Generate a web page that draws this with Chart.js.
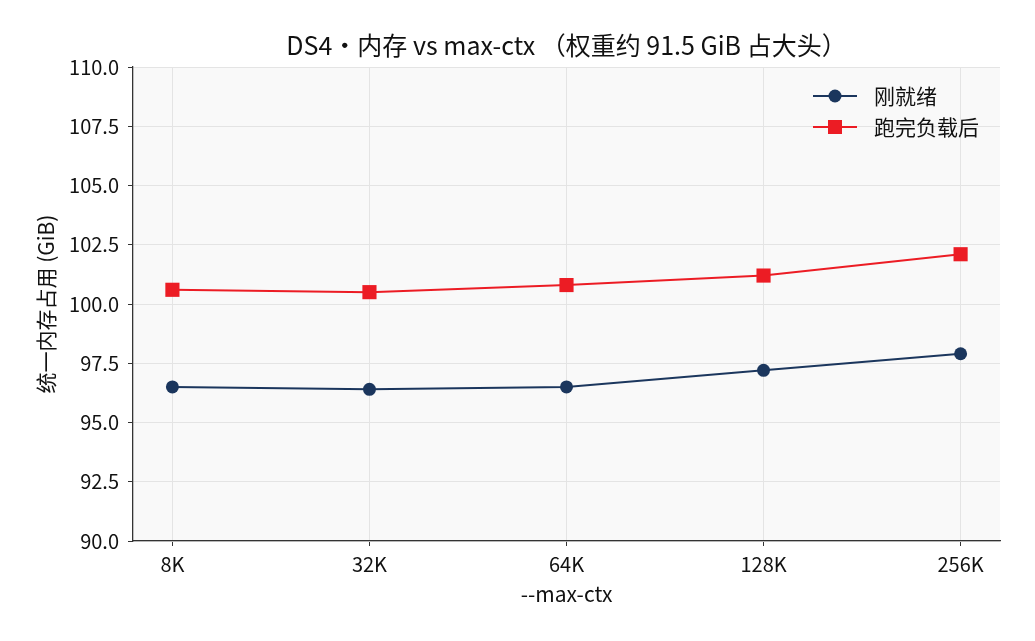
<!DOCTYPE html>
<html>
<head>
<meta charset="utf-8">
<script src="https://cdn.jsdelivr.net/npm/chart.js@4.4.1/dist/chart.umd.min.js"></script>
<style>
  html, body { margin: 0; padding: 0; background: #fff; }
  #wrap { width: 1035px; height: 641px; }
</style>
</head>
<body>
<div id="wrap"><canvas id="myChart"></canvas></div>
<script>
// chart data
const categories = ['8K', '32K', '64K', '128K', '256K'];
const readyValues = [96.5, 96.4, 96.5, 97.2, 97.9];
const afterLoadValues = [100.6, 100.5, 100.8, 101.2, 102.1];
const yTicks = [90, 92.5, 95, 97.5, 100, 102.5, 105, 107.5, 110];
const seriesNames = ['刚就绪', '跑完负载后'];

const FONT = '"Noto Sans CJK SC", "Noto Sans", sans-serif';
const NAVY = '#1b365d';
const RED = '#ec1c24';

const toPoints = (vals) => vals.map((v, i) => ({ x: i, y: v }));

// plot background, titles and legend drawn on the canvas
const decorations = {
    id: 'decorations',
    beforeDraw(chart) {
        const { ctx, chartArea: a } = chart;
        ctx.save();
        ctx.fillStyle = '#f9f9f9';
        ctx.fillRect(a.left, a.top, a.right - a.left, a.bottom - a.top);
        ctx.restore();
    },
    afterDraw(chart) {
        const { ctx, chartArea: a } = chart;
        const cx = (a.left + a.right) / 2;
        ctx.save();
        ctx.fillStyle = '#111';
        ctx.textAlign = 'center';
        ctx.textBaseline = 'middle';
        ctx.font = '25px ' + FONT;
        ctx.fillText('DS4・内存 vs max-ctx （权重约 91.5 GiB 占大头）', cx, 45);
        ctx.font = '21px ' + FONT;
        ctx.fillText('--max-ctx', cx, 594);
        ctx.translate(46, (a.top + a.bottom) / 2);
        ctx.rotate(-Math.PI / 2);
        ctx.fillText('统一内存占用 (GiB)', 0, 0);
        ctx.restore();

        // legend
        ctx.save();
        chart.data.datasets.forEach((ds, i) => {
            const y = 96 + i * 31;
            ctx.strokeStyle = ds.borderColor;
            ctx.lineWidth = 2;
            ctx.beginPath();
            ctx.moveTo(813, y);
            ctx.lineTo(857, y);
            ctx.stroke();
            ctx.fillStyle = ds.borderColor;
            if (ds.pointStyle === 'rect') {
                ctx.fillRect(835 - 7, y - 7, 14, 14);
            } else {
                ctx.beginPath();
                ctx.arc(835, y, 6.5, 0, Math.PI * 2);
                ctx.fill();
            }
            ctx.fillStyle = '#111';
            ctx.font = '21px ' + FONT;
            ctx.textAlign = 'left';
            ctx.textBaseline = 'middle';
            ctx.fillText(ds.label, 874, y);
        });
        ctx.restore();
    }
};

const ctx = document.getElementById('myChart').getContext('2d');
new Chart(ctx, {
    type: 'line',
    data: {
        datasets: [{
            label: seriesNames[0],
            data: toPoints(readyValues),
            borderColor: NAVY,
            backgroundColor: NAVY,
            borderWidth: 2,
            pointStyle: 'circle',
            pointRadius: 6.5,
            pointHoverRadius: 6.5,
            pointBorderWidth: 0
        }, {
            label: seriesNames[1],
            data: toPoints(afterLoadValues),
            borderColor: RED,
            backgroundColor: RED,
            borderWidth: 2,
            pointStyle: 'rect',
            pointRadius: 10,
            pointHoverRadius: 10,
            pointBorderWidth: 0
        }]
    },
    options: {
        responsive: true,
        maintainAspectRatio: false,
        animation: false,
        layout: { padding: { left: 0, top: 67, right: 35, bottom: 0 } },
        plugins: {
            legend: { display: false },
            title: { display: false },
            tooltip: { enabled: false }
        },
        scales: {
            x: {
                type: 'linear',
                min: -0.2,
                max: 4.2,
                afterBuildTicks: (axis) => { axis.ticks = categories.map((c, i) => ({ value: i })); },
                afterFit: (axis) => { axis.height = 100; },
                ticks: {
                    callback: (v) => categories[v],
                    font: { family: FONT, size: 20 },
                    color: '#111',
                    padding: 6,
                    maxRotation: 0
                },
                grid: { color: '#e4e4e4', tickColor: '#333', tickLength: 5, lineWidth: 1 },
                border: { color: '#333', width: 1.3 }
            },
            y: {
                min: 90,
                max: 110,
                afterBuildTicks: (axis) => { axis.ticks = yTicks.map(v => ({ value: v })); },
                afterFit: (axis) => { axis.width = 133; },
                ticks: {
                    callback: (v) => v.toFixed(1),
                    font: { family: FONT, size: 20 },
                    color: '#111',
                    padding: 9
                },
                grid: { color: '#e4e4e4', tickColor: '#333', tickLength: 5, lineWidth: 1 },
                border: { color: '#333', width: 1.3 }
            }
        }
    },
    plugins: [decorations]
});
</script>
</body>
</html>
